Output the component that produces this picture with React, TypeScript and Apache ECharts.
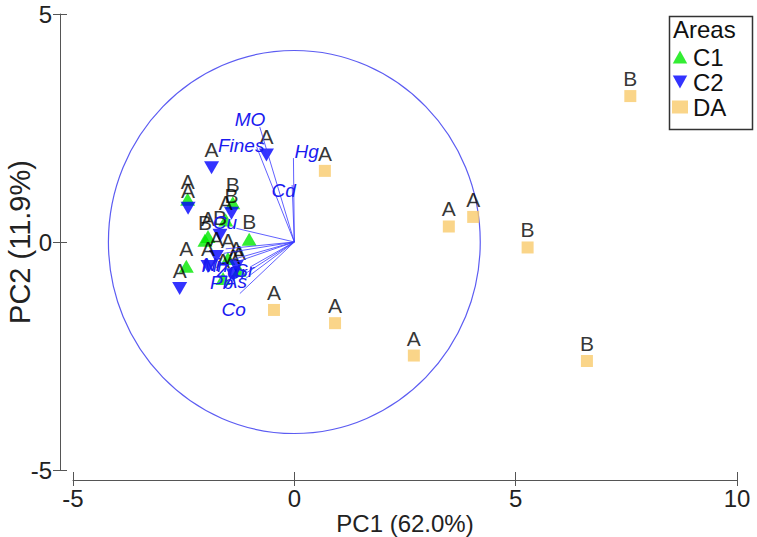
import React, { useEffect, useRef } from "react";
import * as echarts from "echarts";

// ---- Scores (sample points) ----
const daX = [7.59, 0.69, 4.04, 3.49, 5.27, -0.46, 0.92, 2.7, 6.61];
const daY = [3.2, 1.56, 0.55, 0.34, -0.12, -1.49, -1.78, -2.49, -2.61];
const daLab = ["B", "A", "A", "A", "B", "A", "A", "A", "B"];

const c1X = [-2.41, -1.39, -1.55, -1.02, -2.02, -1.95, -2.44, -1.5, -1.61, -1.25];
const c1Y = [0.94, 0.86, 0.48, 0.06, 0.04, 0.12, -0.53, -0.36, -0.8, -0.62];
const c1Lab = ["A", "B", "A", "B", "B", "A", "A", "A", "A", "A"];

const c2X = [-0.63, -1.87, -2.4, -1.42, -1.68, -1.95, -2.59, -1.31, -1.38, -1.76];
const c2Y = [1.91, 1.63, 0.74, 0.63, 0.15, -0.54, -1.02, -0.54, -0.72, -0.32];
const c2Lab = ["A", "A", "A", "B", "B", "A", "A", "A", "A", "A"];

// ---- Loadings (variables) ----
const loadNames = ["MO", "Fines", "Hg", "Cd", "Cu", "Ni", "Mn", "Zn", "Cr", "Sr", "Pb", "As", "Co"];
const loadX = [-0.78, -0.85, -0.02, -0.05, -1.31, -1.55, -1.6, -1.45, -1.35, -1.0, -1.2, -1.1, -1.23];
const loadY = [2.52, 2.08, 1.84, 1.25, 0.3, -0.15, -0.25, -0.4, -0.45, -0.55, -0.75, -0.8, -1.13];
const loadLabX = [-1.0, -1.2, 0.28, -0.24, -1.57, -1.88, -1.8, -1.5, -1.3, -1.12, -1.64, -1.32, -1.37];
const loadLabY = [2.68, 2.12, 1.98, 1.14, 0.42, -0.5, -0.52, -0.62, -0.66, -0.63, -0.88, -0.86, -1.49];

const circleRadius = 4.2;

const xMin = -5, xMax = 10, xInterval = 5;
const yMin = -5, yMax = 5, yInterval = 5;

const FONT = '"Liberation Sans", Arial, sans-serif';

export default function App() {
  const ref = useRef<HTMLDivElement>(null);
  useEffect(() => {
    if (!ref.current) return;
    const chart = echarts.init(ref.current, undefined, { renderer: "svg" });

    const mk = (xs: number[], ys: number[], labs: string[]) =>
      xs.map((x, i) => [x, ys[i], labs[i]]);

    const pointLabel = {
      show: true,
      position: "top",
      distance: 1,
      formatter: (p: any) => p.value[2],
      fontSize: 21,
      color: "#000",
      fontFamily: FONT,
    };

    const axisCommonX = {
      type: "value",
      min: xMin,
      max: xMax,
      interval: xInterval,
      position: "bottom",
      offset: 10,
      splitLine: { show: false },
    };
    const axisCommonY = {
      type: "value",
      min: yMin,
      max: yMax,
      interval: yInterval,
      position: "left",
      offset: 13,
      splitLine: { show: false },
    };

    const option: any = {
      animation: false,
      backgroundColor: "#fff",
      textStyle: { fontFamily: FONT },
      grid: { left: 73, right: 20, top: 14, bottom: 67, outerBoundsMode: "none", containLabel: false },
      xAxis: [
        {
          ...axisCommonX,
          axisLine: { show: true, onZero: false, lineStyle: { color: "#555", width: 1 } },
          axisTick: { show: true, length: 6, lineStyle: { color: "#555" } },
          axisLabel: { fontSize: 24, color: "#222", margin: 6, fontFamily: FONT },
          name: "PC1 (62.0%)",
          nameLocation: "middle",
          nameGap: 31,
          nameMoveOverlap: false,
          nameTextStyle: { fontSize: 24, color: "#222", fontFamily: FONT },
        },
        {
          ...axisCommonX,
          axisLine: { show: false, onZero: false },
          axisTick: { show: true, inside: true, length: 8, lineStyle: { color: "#555" } },
          axisLabel: { show: false },
        },
      ],
      yAxis: [
        {
          ...axisCommonY,
          axisLine: { show: true, onZero: false, lineStyle: { color: "#555", width: 1 } },
          axisTick: { show: true, length: 7, lineStyle: { color: "#555" } },
          axisLabel: { fontSize: 24, color: "#222", margin: 8, fontFamily: FONT },
          name: "PC2 (11.9%)",
          nameLocation: "middle",
          nameGap: 26,
          nameMoveOverlap: false,
          nameTextStyle: { fontSize: 29, color: "#222", fontFamily: FONT },
        },
        {
          ...axisCommonY,
          axisLine: { show: false, onZero: false },
          axisTick: { show: true, inside: true, length: 7, lineStyle: { color: "#555" } },
          axisLabel: { show: false },
        },
      ],
      legend: {
        data: [
          { name: "C1", icon: "path://M5,0 L10,9 L0,9 Z" },
          { name: "C2", icon: "path://M0,0 L10,0 L5,9 Z" },
          { name: "DA", icon: "rect" },
        ],
        orient: "vertical",
        left: 672,
        top: 45,
        padding: 0,
        itemGap: 1,
        itemWidth: 16,
        itemHeight: 13,
        textStyle: { fontSize: 24, color: "#111", fontFamily: FONT },
      },
      graphic: [
        {
          type: "rect",
          left: 667,
          top: 14,
          shape: { width: 83, height: 113 },
          style: { fill: "none", stroke: "#333", lineWidth: 1.5 },
        },
        {
          type: "text",
          left: 673,
          top: 17,
          style: { text: "Areas", fontSize: 24, fill: "#111", fontFamily: FONT },
        },
      ],
      series: [
        {
          type: "custom",
          name: "circle",
          silent: true,
          z: 1,
          data: [[0, 0]],
          renderItem: (params: any, api: any) => {
            const c = api.coord([0, 0]);
            const s = api.size([circleRadius, circleRadius]);
            return {
              type: "ellipse",
              shape: { cx: c[0], cy: c[1], rx: s[0], ry: s[1] },
              style: { fill: "none", stroke: "#5c5cf2", lineWidth: 1.2 },
            };
          },
        },
        {
          type: "scatter",
          name: "DA",
          z: 2,
          symbol: "rect",
          symbolSize: 12,
          itemStyle: { color: "#F9CA6C" },
          label: pointLabel,
          data: mk(daX, daY, daLab),
        },
        {
          type: "scatter",
          name: "C1",
          z: 2,
          symbol: "triangle",
          symbolSize: [15, 13],
          itemStyle: { color: "#00E800" },
          label: pointLabel,
          data: mk(c1X, c1Y, c1Lab),
        },
        {
          type: "scatter",
          name: "C2",
          z: 2,
          symbol: "triangle",
          symbolRotate: 180,
          symbolSize: [15, 13],
          itemStyle: { color: "#0000FF" },
          label: pointLabel,
          data: mk(c2X, c2Y, c2Lab),
        },
        {
          type: "custom",
          name: "loadings",
          silent: true,
          z: 5,
          data: loadNames.map((n, i) => [loadX[i], loadY[i], loadLabX[i], loadLabY[i], n]),
          encode: { x: 0, y: 1 },
          renderItem: (params: any, api: any) => {
            const o = api.coord([0, 0]);
            const e = api.coord([api.value(0), api.value(1)]);
            const t = api.coord([api.value(2), api.value(3)]);
            const name = loadNames[params.dataIndex];
            return {
              type: "group",
              children: [
                {
                  type: "line",
                  shape: { x1: o[0], y1: o[1], x2: e[0], y2: e[1] },
                  style: { stroke: "#3a3aff", lineWidth: 1, opacity: 0.8 },
                },
                {
                  type: "text",
                  x: t[0],
                  y: t[1],
                  style: {
                    text: name,
                    fill: "#1a1af0",
                    font: `italic 19px ${FONT}`,
                    align: "center",
                    verticalAlign: "middle",
                  },
                },
              ],
            };
          },
        },
      ],
    };

    chart.setOption(option);
    return () => chart.dispose();
  }, []);

  return (
    <div
      ref={ref}
      style={{ position: "fixed", left: 0, top: 0, width: 757, height: 537, background: "#fff" }}
    />
  );
}
